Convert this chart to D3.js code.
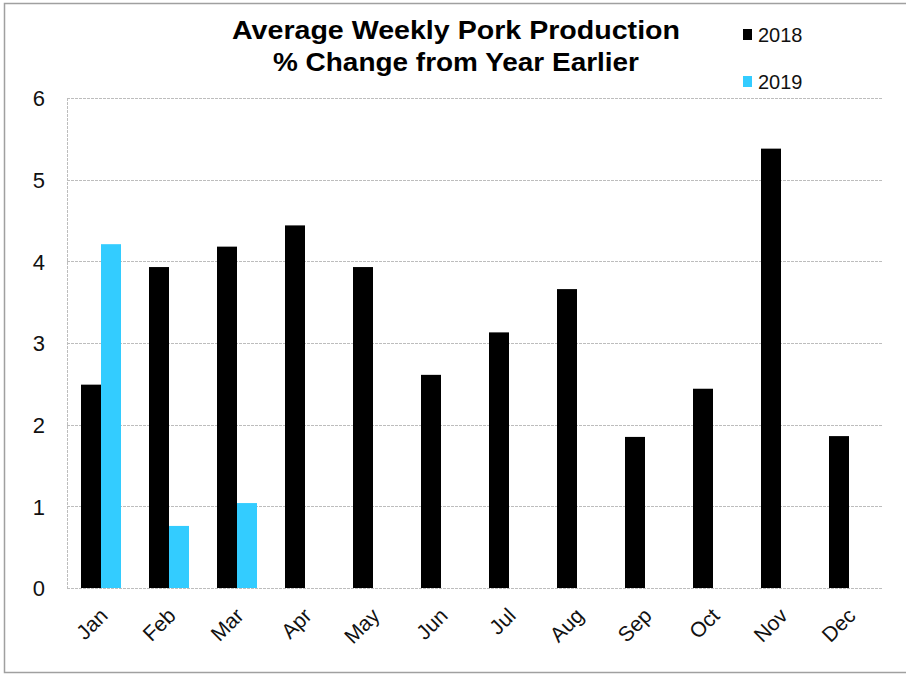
<!DOCTYPE html>
<html>
<head>
<meta charset="utf-8">
<script src="https://cdn.jsdelivr.net/npm/d3@7"></script>
<style>
  body { margin: 0; background: #fff; }
  svg text { font-family: "Liberation Sans", Arial, sans-serif; }
</style>
</head>
<body>
<div id="wrapper"></div>
<script>
const months = ["Jan", "Feb", "Mar", "Apr", "May", "Jun", "Jul", "Aug", "Sep", "Oct", "Nov", "Dec"];
const values2018 = [2.49, 3.93, 4.18, 4.44, 3.93, 2.61, 3.13, 3.66, 1.85, 2.44, 5.38, 1.86];
const values2019 = [4.21, 0.76, 1.04];
const seriesNames = ["2018", "2019"];
const seriesColors = ["#000000", "#33ccff"];
const yTicks = [0, 1, 2, 3, 4, 5, 6];

let dimensions = {
    width: 906,
    height: 676,
    margin: { top: 98, right: 23, bottom: 88, left: 67 },
};
dimensions.boundedWidth = dimensions.width - dimensions.margin.left - dimensions.margin.right;
dimensions.boundedHeight = dimensions.height - dimensions.margin.top - dimensions.margin.bottom;

const svg = d3.select("#wrapper")
    .append("svg")
    .attr("width", dimensions.width)
    .attr("height", dimensions.height);

// outer frame
svg.append("rect")
    .attr("x", 4.5).attr("y", 3.5)
    .attr("width", 906).attr("height", 669)
    .attr("fill", "none")
    .attr("stroke", "#a0a0a0")
    .attr("stroke-width", 1.5);

const bounds = svg.append("g")
    .attr("transform", `translate(${dimensions.margin.left},${dimensions.margin.top})`);

const xScale = d3.scaleBand()
    .domain(months)
    .range([0, dimensions.boundedWidth])
    .paddingInner(28 / 68)
    .paddingOuter(14 / 68);

const xSub = d3.scaleBand()
    .domain(seriesNames)
    .range([0, xScale.bandwidth()]);

const yScale = d3.scaleLinear()
    .domain([0, 6])
    .range([dimensions.boundedHeight, 0]);

// gridlines
bounds.append("g")
    .selectAll("line")
    .data(yTicks)
    .join("line")
    .attr("x1", 0)
    .attr("x2", dimensions.boundedWidth)
    .attr("y1", d => Math.round(yScale(d)) + 0.5)
    .attr("y2", d => Math.round(yScale(d)) + 0.5)
    .attr("stroke", "#bdbdbd")
    .attr("stroke-width", 1)
    .attr("stroke-dasharray", "3,1");

// left axis line
bounds.append("line")
    .attr("x1", 0.5).attr("x2", 0.5)
    .attr("y1", 0).attr("y2", dimensions.boundedHeight)
    .attr("stroke", "#bdbdbd")
    .attr("stroke-dasharray", "3,1");

// y labels
const yAxis = bounds.append("g")
    .call(d3.axisLeft(yScale).tickValues(yTicks).tickSize(0).tickPadding(22).tickFormat(d3.format("d")));
yAxis.select(".domain").remove();
yAxis.selectAll("text")
    .attr("font-size", 22)
    .attr("fill", "#111")
    .attr("dy", "0.36em")
    .style("font-family", "Liberation Sans, Arial, sans-serif");

// bars
const allSeries = [values2018, values2019];
allSeries.forEach((vals, i) => {
    bounds.append("g")
        .selectAll("rect")
        .data(vals)
        .join("rect")
        .attr("x", (d, j) => xScale(months[j]) + xSub(seriesNames[i]))
        .attr("width", xSub.bandwidth())
        .attr("y", d => yScale(d))
        .attr("height", d => yScale(0) - yScale(d))
        .attr("fill", seriesColors[i]);
});

// x labels
const xAxis = bounds.append("g")
    .attr("transform", `translate(0,${dimensions.boundedHeight})`)
    .call(d3.axisBottom(xScale).tickSize(0).tickPadding(0));
xAxis.select(".domain").remove();
xAxis.selectAll("text")
    .attr("font-size", 21)
    .attr("fill", "#111")
    .attr("text-anchor", "end")
    .attr("dy", 0)
    .attr("transform", "translate(8,29) rotate(-45)")
    .style("font-family", "Liberation Sans, Arial, sans-serif");

// title
const titleLines = ["Average Weekly Pork Production", "% Change from Year Earlier"];
const titleWidths = [448, 366];
const titleY = [39, 71];
titleLines.forEach((t, i) => {
    svg.append("text")
        .attr("x", 456).attr("y", titleY[i])
        .attr("text-anchor", "middle")
        .attr("font-size", 26)
        .attr("font-weight", "bold")
        .attr("textLength", titleWidths[i])
        .attr("lengthAdjust", "spacingAndGlyphs")
        .text(t);
});

// legend
const legend = svg.append("g");
const legendY = [42, 89];
seriesNames.forEach((name, i) => {
    legend.append("rect")
        .attr("x", 743).attr("y", legendY[i] - 13)
        .attr("width", 9).attr("height", 11)
        .attr("fill", seriesColors[i]);
    legend.append("text")
        .attr("x", 758).attr("y", legendY[i])
        .attr("font-size", 20)
        .attr("fill", "#111")
        .text(name);
});
</script>
</body>
</html>
